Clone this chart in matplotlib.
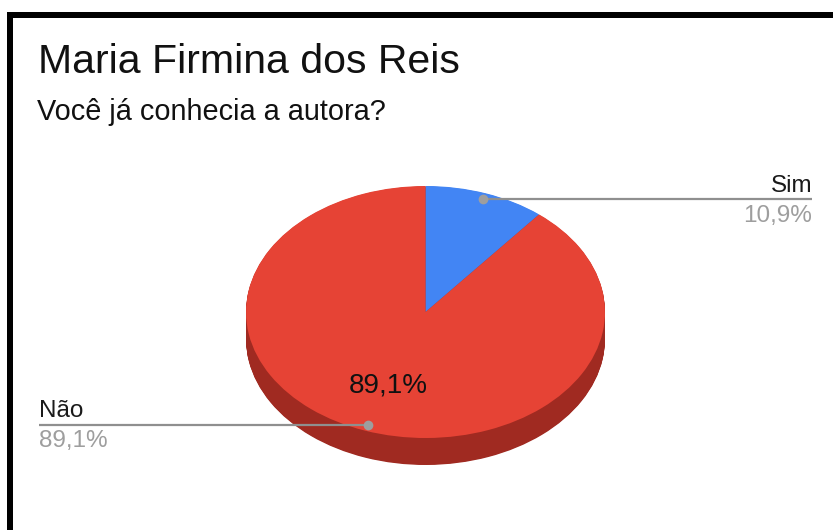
import numpy as np
import matplotlib
matplotlib.use("Agg")
from matplotlib import pyplot
from matplotlib.patches import Rectangle

plt = pyplot
plt.rcParams['font.family'] = ['Liberation Sans', 'DejaVu Sans']

# data
title = "Maria Firmina dos Reis"
subtitle = "Você já conhecia a autora?"
labels = ["Sim", "Não"]
values = [10.9, 89.1]
top_colors = ["#4285F4", "#E64335"]
side_colors = ["#2D5DAE", "#A02A21"]

W, H = 833, 530
fig = plt.figure(figsize=(W / 100, H / 100), dpi=100)

# background axes in pixel units (frame + titles)
bg = fig.add_axes([0, 0, 1, 1])
bg.set_xlim(0, W)
bg.set_ylim(H, 0)
bg.axis('off')
bg.add_patch(Rectangle((7, 12), W - 7, 6, color='black', lw=0))
bg.add_patch(Rectangle((7, 12), 6, H - 12, color='black', lw=0))
bg.text(38, 73, title, fontsize=29.5, color='#111111', va='baseline')
bg.text(37, 120, subtitle, fontsize=20.8, color='#111111', va='baseline')

# pie axes: ellipse of half-axes 179.5 x 126 px centred at (425.5, 312)
cx, cy, a, b = 425.5, 312.0, 179.5, 126.0
y_lo, y_hi = -1.3, 1.05
left_px, top_px = cx - a, cy - y_hi * b
h_px = (y_hi - y_lo) * b
ax = fig.add_axes([left_px / W, (H - top_px - h_px) / H, 2 * a / W, h_px / H])

depth = 27.0 / b
for d in np.linspace(depth, 0.004, 40):
    ax.pie(values, colors=side_colors, startangle=90, counterclock=False,
           center=(0, -d), radius=1, wedgeprops=dict(linewidth=0))
ax.pie(values, colors=top_colors, startangle=90, counterclock=False,
       radius=1, wedgeprops=dict(linewidth=0))
ax.set_aspect('auto')
ax.set_xlim(-1, 1)
ax.set_ylim(y_lo, y_hi)
ax.axis('off')

total = float(sum(values))
fracs = np.array(values) / total
starts = np.concatenate([[0], np.cumsum(fracs)[:-1]])
mids = np.deg2rad(90 - 360 * (starts + fracs / 2))
label_x = 2.155

for lab, v, f, m in zip(labels, values, fracs, mids):
    pct = ("%.1f%%" % (100 * f)).replace('.', ',')
    px, py = 0.95 * np.cos(m), 0.95 * np.sin(m)
    side = 1 if np.cos(m) >= 0 else -1
    ex = side * label_x
    ha = 'right' if side > 0 else 'left'
    ax.plot([px, ex], [py, py], color='#8f8f8f', lw=1.6, clip_on=False,
            solid_capstyle='butt', zorder=5)
    ax.plot([px], [py], 'o', color='#9e9e9e', ms=7, mew=0, clip_on=False,
            zorder=6)
    ax.annotate(lab, xy=(ex, py), xytext=(0, 7.5), textcoords='offset pixels',
                ha=ha, va='baseline', fontsize=17.5, color='#1a1a1a',
                annotation_clip=False)
    ax.annotate(pct, xy=(ex, py), xytext=(0, -22.5),
                textcoords='offset pixels', ha=ha, va='baseline',
                fontsize=17.5, color='#9e9e9e', annotation_clip=False)
    if f > 0.2:
        ax.text(0.62 * np.cos(m), 0.62 * np.sin(m), pct, fontsize=20,
                color='#111111', ha='center', va='center')

fig.savefig("out.png", dpi=100)
